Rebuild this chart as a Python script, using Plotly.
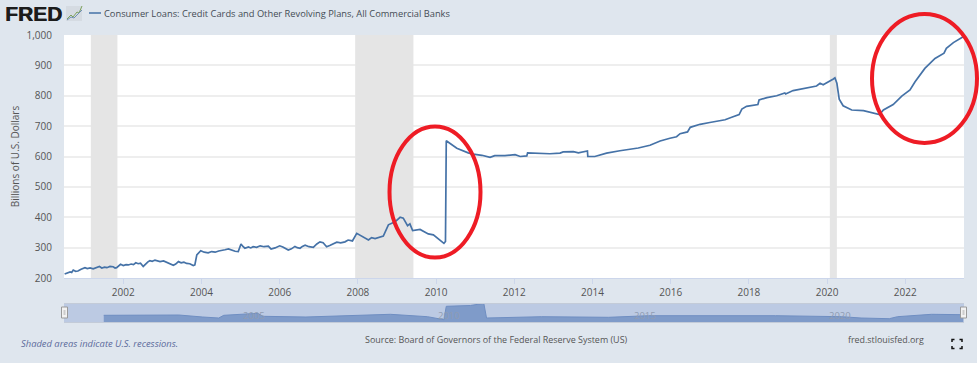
import plotly.graph_objects as go

# ---- data ----
years = [2000.5,2000.58,2000.64,2000.68,2000.72,2000.78,2000.84,2000.92,2001.02,2001.08,2001.15,2001.23,2001.31,2001.39,
 2001.45,2001.52,2001.58,2001.66,2001.74,2001.79,2001.83,2001.88,2001.93,2002.0,2002.07,2002.13,2002.2,2002.26,2002.32,
 2002.38,2002.44,2002.51,2002.57,2002.63,2002.68,2002.74,2002.81,2002.87,2002.94,2003.03,2003.12,2003.2,2003.28,2003.34,
 2003.41,2003.48,2003.55,2003.62,2003.7,2003.79,2003.83,2003.88,2003.98,2004.07,2004.17,2004.26,2004.35,2004.44,2004.52,
 2004.6,2004.69,2004.78,2004.86,2004.94,2005.01,2005.06,2005.11,2005.2,2005.26,2005.32,2005.41,2005.5,2005.6,2005.71,
 2005.78,2005.88,2006.0,2006.08,2006.15,2006.22,2006.3,2006.39,2006.45,2006.52,2006.58,2006.65,2006.75,2006.86,2006.95,
 2007.03,2007.11,2007.2,2007.28,2007.37,2007.46,2007.56,2007.67,2007.75,2007.86,2007.97,2008.14,2008.27,2008.35,2008.44,
 2008.65,2008.78,2008.95,2009.08,2009.16,2009.27,2009.33,2009.4,2009.59,2009.8,2009.93,2010.06,2010.2,2010.24,2010.26,
 2010.53,2010.82,2010.95,2011.17,2011.38,2011.5,2011.76,2012.02,2012.15,2012.32,2012.34,2012.66,2012.91,2013.17,2013.25,
 2013.51,2013.64,2013.87,2013.88,2014.06,2014.36,2014.7,2014.82,2015.17,2015.47,2015.73,2015.98,2016.15,2016.24,2016.43,
 2016.5,2016.75,2017.0,2017.39,2017.56,2017.75,2017.82,2017.94,2018.23,2018.26,2018.46,2018.71,2018.92,2018.94,2019.13,
 2019.43,2019.73,2019.82,2019.9,2020.16,2020.2,2020.25,2020.31,2020.41,2020.63,2020.93,2021.18,2021.34,2021.44,2021.69,
 2021.91,2022.12,2022.25,2022.5,2022.76,2022.88,2022.99,2023.05,2023.23,2023.48]
loans = [213,216,220,218,226,222,223,229,234,231,233,230,235,238,233,236,234,238,237,233,234,240,245,241,244,243,246,244,250,
 247,249,238,247,253,257,255,259,256,254,256,250,247,242,246,254,250,252,248,247,241,243,276,290,285,283,287,285,289,290,
 293,296,291,288,287,312,304,298,302,299,303,301,306,303,305,295,299,306,302,297,292,296,304,300,298,304,308,303,301,312,
 319,316,303,307,313,318,316,319,325,322,347,334,325,333,330,338,375,385,400,397,372,378,356,360,345,342,327,314,320,652,
 627,612,608,604,597,603,603,606,600,602,612,609,609,611,615,616,612,618,600,600,611,619,621,628,637,651,660,665,675,681,
 696,706,712,721,729,738,756,765,771,786,794,800,809,806,817,825,832,841,836,855,859,841,789,767,753,751,744,738,753,771,
 799,819,846,890,923,932,940,956,975,994]

nav_years = [2001.5,2003.42,2004.03,2004.44,2004.57,2005.44,2005.57,2006.67,2008.83,2009.78,2010.2,2010.26,2010.88,2011.22,
 2011.29,2012.7,2014.41,2015.43,2018.68,2020.37,2020.87,2021.59,2021.8,2022.67,2023.48]
nav_level = [6.7,7,5,4,6.7,8.7,5.7,5,7.7,5.3,2.3,15.7,16.5,18.7,4,5.3,4.7,6.3,6.3,5.3,4,3.3,5.3,7.7,7.3]

recessions = [(2001.17,2001.85),(2007.93,2009.42),(2020.07,2020.25)]
x_ticks = list(range(2002,2024,2))
y_ticks = list(range(200,1001,100))
y_labels = ["200","300","400","500","600","700","800","900","1,000"]
nav_ticks = [2005,2010,2015,2020]
series_name = "Consumer Loans: Credit Cards and Other Revolving Plans, All Commercial Banks"

# ---- geometry helpers (pixels -> paper) ----
L,R,T,B = 64,964,35,322
def px(x): return (x-L)/(R-L)
def py(y): return (B-y)/(B-T)
X0 = 2002+(L-123.3)/39.1
X1 = 2002+(R-123.3)/39.1
FONT = "Open Sans"
BG = "#dfe6ee"

fig = go.Figure()
fig.add_trace(go.Scatter(x=years,y=loans,mode="lines",name=series_name,line=dict(color="#4572a7",width=1.7),xaxis="x",yaxis="y"))
fig.add_trace(go.Scatter(x=nav_years,y=nav_level,mode="lines",fill="tozeroy",fillcolor="#7f9bc9",line=dict(color="#6f8ec2",width=1),xaxis="x2",yaxis="y2",showlegend=False))

shapes = []
for a,b in recessions:
    shapes.append(dict(type="rect",xref="x",yref="y",x0=a,x1=b,y0=200,y1=1000,fillcolor="#e5e5e5",line_width=0,layer="between"))
# navigator band
shapes.append(dict(type="rect",xref="paper",yref="paper",x0=0,x1=1,y0=py(322),y1=py(303),fillcolor="#bccae3",line_width=0,layer="between"))
shapes.append(dict(type="rect",xref="paper",yref="paper",x0=0,x1=1,y0=py(304),y1=py(303),fillcolor="#c3cbd8",line_width=0,layer="above"))
shapes.append(dict(type="rect",xref="paper",yref="paper",x0=0,x1=1,y0=py(323),y1=py(322),fillcolor="#c3cbd8",line_width=0,layer="above"))
# nav handles
for cx in (64.5,963.5):
    shapes.append(dict(type="rect",xref="paper",yref="paper",x0=px(cx-3),x1=px(cx+3),y0=py(318),y1=py(307),fillcolor="#f2f2f2",line=dict(color="#9a9a9a",width=1),layer="above"))
    shapes.append(dict(type="rect",xref="paper",yref="paper",x0=px(cx-1),x1=px(cx+1),y0=py(315),y1=py(310),fillcolor="#cccccc",line_width=0,layer="above"))
# legend swatch
shapes.append(dict(type="line",xref="paper",yref="paper",x0=px(89),x1=px(101),y0=py(13),y1=py(13),line=dict(color="#4572a7",width=1.5)))
# logo icon
shapes.append(dict(type="rect",xref="paper",yref="paper",x0=px(66),x1=px(82),y0=py(21),y1=py(6),fillcolor="#d5dbe2",line_width=0))
def poly(points,color,w=1):
    d="M"+" L".join(f"{px(a)} {py(b)}" for a,b in points)
    return dict(type="path",xref="paper",yref="paper",path=d,line=dict(color=color,width=w))
shapes.append(poly([(67,19),(71,15),(73,17),(77,12),(79,13),(82,6)],"#7da35c"))
shapes.append(poly([(67,20),(71,17),(74,18),(78,14),(82,10)],"#6f8fb5"))
# fullscreen icon
for (a,b,c,d,e,f) in [(952,342,952,339.5,954.5,339.5),(959.5,339.5,962,339.5,962,342),(952,346,952,348.5,954.5,348.5),(959.5,348.5,962,348.5,962,346)]:
    shapes.append(poly([(a,b),(c,d),(e,f)],"#111111",1.5))
# white page edge
shapes.append(dict(type="rect",xref="paper",yref="paper",x0=px(977),x1=px(981),y0=py(371),y1=py(-1),fillcolor="#ffffff",line_width=0))
shapes.append(dict(type="rect",xref="paper",yref="paper",x0=px(-1),x1=px(981),y0=py(371),y1=py(363),fillcolor="#ffffff",line_width=0))
# red hand-drawn ellipses
for x0,x1,y0,y1 in [(389.5,480.5,126.5,257.5),(872,977,14,143)]:
    shapes.append(dict(type="circle",xref="paper",yref="paper",x0=px(x0),x1=px(x1),y0=py(y1),y1=py(y0),line=dict(color="#ee1c25",width=4)))

def note(x,y,text,size=10,color="#555555",anchor="left",**kw):
    return dict(xref="paper",yref="paper",x=px(x),y=py(y),text=text,showarrow=False,xanchor=anchor,yanchor="middle",
                font=dict(family=kw.pop("family",FONT),size=size,color=color),**kw)
logo = note(3,13.5,"<b>FRED</b>",size=21,color="#1c1c1c",family="Liberation Sans")
logo["font"]["shadow"] = "0.6px 0 0 #1c1c1c"
ann = [
 logo,
 note(102,13.5,series_name,size=9.3,color="#444c55"),
 note(18.5,343,"<i>Shaded areas indicate U.S. recessions.</i>",size=9.4,color="#5c6b9c"),
 note(363,339,"Source: Board of Governors of the Federal Reserve System (US)",size=8.95,color="#555555"),
 note(846,339,"fred.stlouisfed.org",size=8.9,color="#555555"),
]
for t in nav_ticks:
    ann.append(dict(xref="x2",yref="y2",x=t,y=7,text=str(t),showarrow=False,xanchor="left",yanchor="middle",
                    font=dict(family=FONT,size=9.5,color="#909cb2")))

fig.update_layout(
    width=980,height=370,margin=dict(l=L,r=980-R,t=T,b=370-B),
    paper_bgcolor=BG,plot_bgcolor="#ffffff",showlegend=False,
    font=dict(family=FONT,size=10,color="#555555"),
    shapes=shapes,annotations=ann,
    xaxis=dict(domain=[0,1],range=[X0,X1],tickmode="array",tickvals=x_ticks,ticktext=[str(v) for v in x_ticks],
               showgrid=False,zeroline=False,ticks="outside",ticklen=5,tickcolor="#ccd6eb",tickwidth=1,showline=True,linecolor="#ccd6eb",linewidth=1,
               anchor="y",tickfont=dict(size=10,color="#555555")),
    yaxis=dict(domain=[py(278),1],range=[200,1000],tickmode="array",tickvals=y_ticks,ticktext=y_labels,
               gridcolor="#eeeeee",gridwidth=1.5,zeroline=False,ticks="outside",ticklen=9,tickcolor="rgba(0,0,0,0)",anchor="x",tickfont=dict(size=10,color="#555555"),
               title=dict(text="Billions of U.S. Dollars",font=dict(size=10,color="#555555"),standoff=5)),
    xaxis2=dict(domain=[0,1],range=[X0,X1],showticklabels=False,showgrid=False,zeroline=False,ticks="",anchor="y2"),
    yaxis2=dict(domain=[0,py(303)],range=[0,19],showticklabels=False,showgrid=False,zeroline=False,ticks="",anchor="x2"),
)
fig.write_html("out.html",config=dict(displayModeBar=False),post_script="document.body.style.margin='0';document.documentElement.style.overflow='hidden';")
